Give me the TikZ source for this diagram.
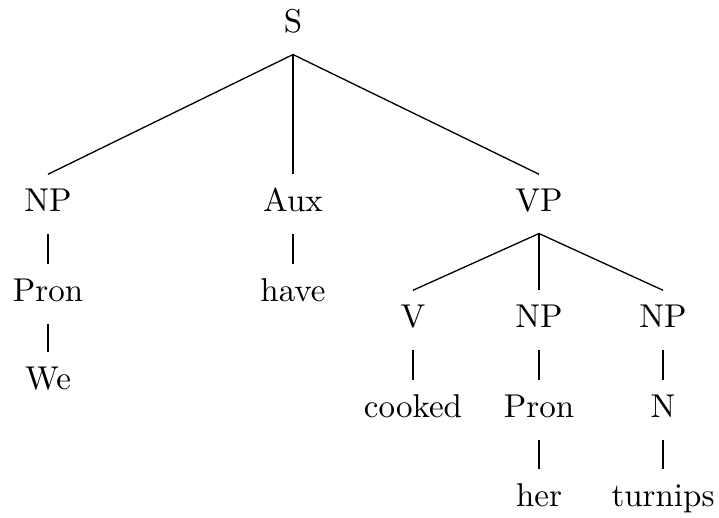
\documentclass[tikz,border=0pt]{standalone}
\usepackage{tikz}
\tikzset{cat/.style={anchor=base,inner sep=3.33pt,text height=7.9pt,text depth=3pt},
  branch/.style={draw=black,line width=0.4pt}}
\begin{document}
\begin{tikzpicture}[x=0.303pt,y=-0.303pt]
  \useasboundingbox (0,0) rectangle (719,518);
  % top level
  \node[cat] (s) at (293,33) {S};
  \node[cat] (np) at (48,212) {NP};
  \node[cat] (aux) at (293,212) {Aux};
  \node[cat] (vp) at (539,212) {VP};
  % subject and auxiliary
  \node[cat] (pron) at (48,302) {Pron};
  \node[cat] (we) at (48,390) {We};
  \node[cat] (have) at (293,302) {have};
  % verb phrase
  \node[cat] (v) at (413,328) {V};
  \node[cat] (npa) at (539,328) {NP};
  \node[cat] (npb) at (663,328) {NP};
  \node[cat] (cooked) at (413,418) {cooked};
  \node[cat] (prona) at (539,418) {Pron};
  \node[cat] (n) at (663,418) {N};
  \node[cat] (her) at (539,507) {her};
  \node[cat] (turnips) at (663,507) {turnips};
  % branches
  \draw[branch] (s.south)--(np.north);
  \draw[branch] (s.south)--(aux.north);
  \draw[branch] (s.south)--(vp.north);
  \draw[branch] (np.south)--(pron.north);
  \draw[branch] (pron.south)--(we.north);
  \draw[branch] (aux.south)--(have.north);
  \draw[branch] (vp.south)--(v.north);
  \draw[branch] (vp.south)--(npa.north);
  \draw[branch] (vp.south)--(npb.north);
  \draw[branch] (v.south)--(cooked.north);
  \draw[branch] (npa.south)--(prona.north);
  \draw[branch] (prona.south)--(her.north);
  \draw[branch] (npb.south)--(n.north);
  \draw[branch] (n.south)--(turnips.north);
\end{tikzpicture}
\end{document}
